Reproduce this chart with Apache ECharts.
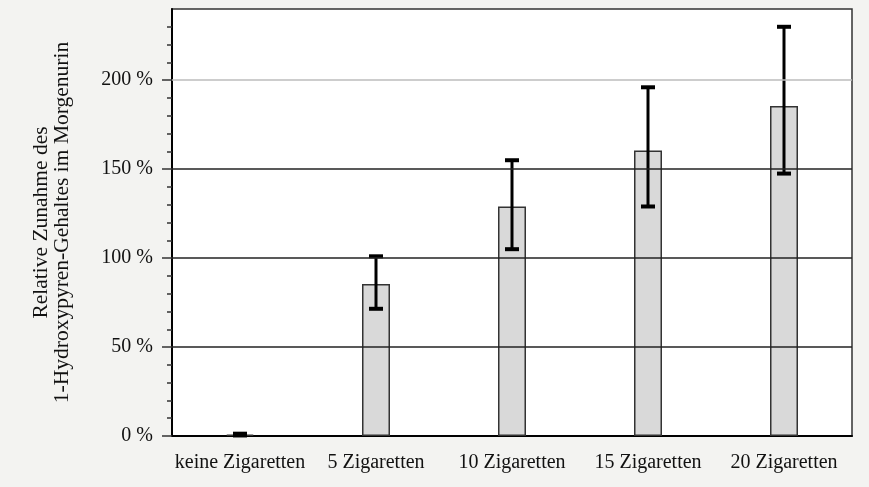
<!DOCTYPE html>
<html>
<head>
<meta charset="utf-8">
<script src="https://cdn.jsdelivr.net/npm/echarts@6/dist/echarts.min.js"></script>
<style>
  html, body { margin: 0; padding: 0; background: #f3f3f1; }
  #chart { width: 869px; height: 487px; }
</style>
</head>
<body>
<div id="chart"></div>
<script>
const categories = ['keine Zigaretten', '5 Zigaretten', '10 Zigaretten', '15 Zigaretten', '20 Zigaretten'];
const meanValues = [0.8, 85.5, 129, 160.5, 185.5];
const errLow = [0.3, 71.5, 105, 129, 147.5];
const errHigh = [1.3, 101, 155, 196, 230];
const majorTicks = [0, 50, 100, 150, 200];
const minorTicks = [10, 20, 30, 40, 60, 70, 80, 90, 110, 120, 130, 140, 160, 170, 180, 190, 210, 220, 230];
const gridValues = [50, 100, 150, 200];

const font = '"Liberation Serif", "DejaVu Serif", serif';
const chart = echarts.init(document.getElementById('chart'));

const errData = categories.map((c, i) => [i, errLow[i], errHigh[i]]);

const option = {
  backgroundColor: '#f3f3f1',
  animation: false,
  grid: {
    left: 172, right: 17, top: 9, bottom: 51,
    show: true, backgroundColor: '#ffffff', borderColor: '#333333', borderWidth: 1.5
  },
  xAxis: {
    type: 'category',
    data: categories,
    axisLine: { lineStyle: { color: '#000', width: 2 } },
    axisTick: { show: false },
    axisLabel: { interval: 0, color: '#111', fontFamily: font, fontSize: 20, margin: 17 }
  },
  yAxis: [{
    type: 'value',
    min: 0, max: 240,
    axisLine: { show: true, lineStyle: { color: '#000', width: 2 } },
    axisTick: { show: true, length: 10, customValues: majorTicks, lineStyle: { color: '#333', width: 1.5 } },
    axisLabel: {
      customValues: majorTicks,
      formatter: v => v + ' %',
      color: '#111', fontFamily: font, fontSize: 20, margin: 19
    },
    splitLine: { show: false },
    name: 'Relative Zunahme des\n1-Hydroxypyren-Gehaltes im Morgenurin',
    nameLocation: 'middle',
    nameGap: 99,
    nameTextStyle: { color: '#111', fontFamily: font, fontSize: 21.5, lineHeight: 21 }
  }, {
    type: 'value',
    min: 0, max: 240,
    position: 'left',
    axisLine: { show: false },
    axisTick: { show: true, length: 5, customValues: minorTicks, lineStyle: { color: '#333', width: 1.5 } },
    axisLabel: { show: false },
    splitLine: { show: false }
  }],
  series: [{
    type: 'line',
    data: [],
    z: 1,
    silent: true,
    markLine: {
      symbol: 'none',
      silent: true,
      animation: false,
      label: { show: false },
      data: gridValues.map(v => ({
        yAxis: v,
        lineStyle: { color: v === 200 ? '#bdbdbd' : '#222', width: 1.5, type: 'solid' }
      }))
    }
  }, {
    type: 'bar',
    data: meanValues,
    barWidth: 28,
    z: 2,
    itemStyle: { color: '#d9d9d9', borderColor: '#333', borderWidth: 1.5 }
  }, {
    type: 'custom',
    z: 3,
    data: errData,
    renderItem: (params, api) => {
      const x = api.value(0);
      const lo = api.coord([x, api.value(1)]);
      const hi = api.coord([x, api.value(2)]);
      const half = 7;
      const style = { stroke: '#000', lineWidth: 3 };
      return {
        type: 'group',
        children: [
          { type: 'line', shape: { x1: lo[0], y1: lo[1], x2: hi[0], y2: hi[1] }, style },
          { type: 'line', shape: { x1: hi[0] - half, y1: hi[1], x2: hi[0] + half, y2: hi[1] }, style: { stroke: '#000', lineWidth: 4 } },
          { type: 'line', shape: { x1: lo[0] - half, y1: lo[1], x2: lo[0] + half, y2: lo[1] }, style: { stroke: '#000', lineWidth: 4 } }
        ]
      };
    }
  }]
};

chart.setOption(option);
</script>
</body>
</html>
